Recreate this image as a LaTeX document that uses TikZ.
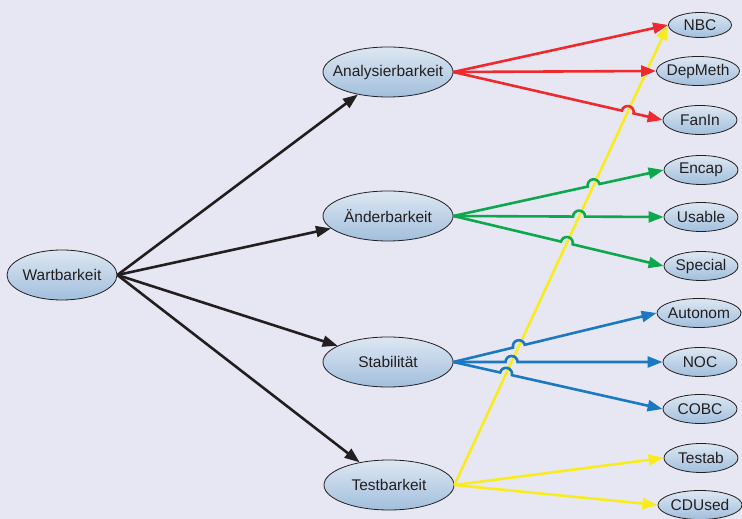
\documentclass[tikz,border=0pt]{standalone}
\usepackage{fontspec}
\setmainfont{Liberation Sans}
\usetikzlibrary{shapes.geometric, arrows.meta, calc, intersections}

\definecolor{paper}{HTML}{E7E7F3}
\definecolor{ink}{HTML}{231F20}
\definecolor{ballTop}{HTML}{DDE7F2}
\definecolor{ballBot}{HTML}{A2BFDD}
\definecolor{redlink}{HTML}{EE2A2E}
\definecolor{greenlink}{HTML}{0DA84E}
\definecolor{bluelink}{HTML}{1B78C2}
\definecolor{yellowlink}{HTML}{F8EC1E}

% edge that jumps over the yellow line (path "yel")
\newcommand{\hopedge}[3]{%
  \path[name path=cut] (#1) -- (#2);
  \path[name intersections={of=cut and yel, by=hop}];
  \draw[link, #3] let \p1=($(#2)-(#1)$), \n1={atan2(\y1,\x1)} in
    (#1) -- ($(hop)!6pt!(#1)$) arc[start angle=\n1+180, end angle=\n1, radius=6pt] -- (#2);
}

\begin{document}
\begin{tikzpicture}[
		x=1pt, y=1pt,
		every node/.style={ellipse, draw=ink, line width=0.8pt, top color=ballTop, bottom color=ballBot,
			text=ink, font=\fontsize{15.5}{18}\selectfont},
		mid/.style={minimum width=130pt, minimum height=50pt, inner xsep=-10pt, inner ysep=0pt},
		leaf/.style={minimum width=74pt, minimum height=29pt, inner xsep=-10pt, inner ysep=0pt},
		link/.style={line width=2.6pt, -{Triangle[length=15pt, width=11pt]}}
	]
  \fill[paper] (0,0) rectangle (742,519);
  \useasboundingbox (0,0) rectangle (742,519);

  \node (wart) [mid, minimum width=110pt] at (62,244) {Wartbarkeit};
  \node (anal) [mid] at (388,447) {Analysierbarkeit};
  \node (aend) [mid] at (388,303) {Änderbarkeit};
  \node (stab) [mid] at (388,157) {Stabilität};
  \node (test) [mid] at (389,34) {Testbarkeit};

  \node (nbc) [leaf, minimum width=63pt, minimum height=25pt] at (700,494) {NBC};
  \node (depmeth) [leaf, minimum width=83pt] at (698,448) {DepMeth};
  \node (fanin) [leaf] at (700,399) {FanIn};
  \node (encap) [leaf] at (701,349) {Encap};
  \node (usable) [leaf] at (701,302) {Usable};
  \node (special) [leaf] at (701,253) {Special};
  \node (autonom) [leaf, minimum width=84pt] at (699,206) {Autonom};
  \node (noc) [leaf] at (700,157) {NOC};
  \node (cobc) [leaf] at (700,110) {COBC};
  \node (testab) [leaf] at (701,61) {Testab};
  \node (cdused) [leaf, minimum width=84pt] at (700,14) {CDUsed};

  % yellow first, the other edges hop over it
  \draw[link, yellowlink, name path=yel] (test.east) -- (nbc.west);
  \draw[link, yellowlink] (test.east) -- (testab.west);
  \draw[link, yellowlink] (test.east) -- (cdused.west);

  \foreach \n in {anal, aend, stab, test}
    \draw[link, ink] (wart.east) -- (\n);

  \draw[link, redlink] (anal.east) -- (nbc.west);
  \draw[link, redlink] (anal.east) -- (depmeth.west);
  \hopedge{anal.east}{fanin.west}{redlink}

  \hopedge{aend.east}{encap.west}{greenlink}
  \hopedge{aend.east}{usable.west}{greenlink}
  \hopedge{aend.east}{special.west}{greenlink}

  \hopedge{stab.east}{autonom.west}{bluelink}
  \hopedge{stab.east}{noc.west}{bluelink}
  \hopedge{stab.east}{cobc.west}{bluelink}
\end{tikzpicture}
\end{document}
